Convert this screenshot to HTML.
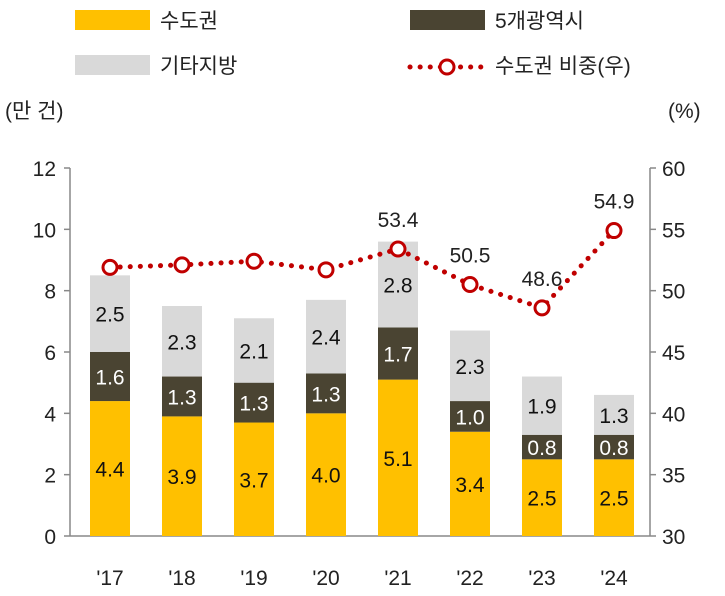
<!DOCTYPE html>
<html><head><meta charset="utf-8">
<style>
body{margin:0;background:#fff;}
svg{display:block;font-family:"Liberation Sans","Noto Sans CJK KR",sans-serif;}
</style></head>
<body>
<svg id="chart" width="725" height="596" viewBox="0 0 725 596">
<g>
  <rect x="75" y="10" width="75" height="20" fill="#FFC000"/>
  <text x="160" y="28" font-size="21" fill="#222">수도권</text>
  <rect x="410" y="10" width="75" height="20" fill="#4A4432"/>
  <text x="495" y="28" font-size="21" fill="#222">5개광역시</text>
  <rect x="75" y="55" width="75" height="20" fill="#D9D9D9"/>
  <text x="160" y="73" font-size="21" fill="#222">기타지방</text>
  <line x1="410" y1="67" x2="485" y2="67" stroke="#C00000" stroke-width="5" stroke-dasharray="0.1 10" stroke-linecap="round"/>
  <circle cx="447" cy="67" r="7" fill="#fff" stroke="#C00000" stroke-width="3"/>
  <text x="495" y="73" font-size="21" fill="#222">수도권 비중(우)</text>
</g>
<text x="5" y="118" font-size="21" fill="#222">(만 건)</text>
<text x="668" y="118" font-size="21" fill="#222">(%)</text>
<g id="axes"></g>
<g id="bars"></g>
<g id="line"></g>
</svg>
<script>
const years=["'17","'18","'19","'20","'21","'22","'23","'24"];
const capital=[4.4,3.9,3.7,4.0,5.1,3.4,2.5,2.5];
const metro=[1.6,1.3,1.3,1.3,1.7,1.0,0.8,0.8];
const other=[2.5,2.3,2.1,2.4,2.8,2.3,1.9,1.3];
const share=[51.9,52.1,52.4,51.7,53.4,50.5,48.6,54.9];
const shareLabels=[null,null,null,null,"53.4","50.5","48.6","54.9"];
const leftTicks=[0,2,4,6,8,10,12];
const rightTicks=[30,35,40,45,50,55,60];
const NS="http://www.w3.org/2000/svg";
const plotTop=168,plotBot=536,x0=70,x1=650;
const yL=v=>plotBot-(v/12)*(plotBot-plotTop);
const yR=v=>plotBot-((v-30)/30)*(plotBot-plotTop);
const xC=i=>110+i*72;
const bw=40;
function mk(tag,attrs,parent,text){const e=document.createElementNS(NS,tag);for(const k in attrs)e.setAttribute(k,attrs[k]);if(text!=null)e.textContent=text;parent.appendChild(e);return e;}
const axes=document.getElementById('axes'),bars=document.getElementById('bars'),line=document.getElementById('line');
let e=mk('line',{x1:x0,y1:plotTop,x2:x0,y2:plotBot,stroke:'#888','stroke-width':1.5},axes);


e=mk('line',{x1:x1,y1:plotTop,x2:x1,y2:plotBot,stroke:'#888','stroke-width':1.5},axes);


e=mk('line',{x1:x0,y1:plotBot,x2:x1,y2:plotBot,stroke:'#888','stroke-width':1.5},axes);


leftTicks.forEach(t=>{
  mk('line',{x1:x0-6,y1:yL(t),x2:x0,y2:yL(t),stroke:'#888','stroke-width':1.5},axes);
  const tx=mk('text',{x:x0-14,y:yL(t)+8,'font-size':21,'text-anchor':'end',fill:'#222'},axes,String(t));
  
  
});
rightTicks.forEach(t=>{
  mk('line',{x1:x1,y1:yR(t),x2:x1+6,y2:yR(t),stroke:'#888','stroke-width':1.5},axes);
  const tx=mk('text',{x:x1+12,y:yR(t)+8,'font-size':21,fill:'#222'},axes,String(t));
  
  
});
years.forEach((y,i)=>{
  const tx=mk('text',{x:xC(i),y:585,'font-size':21,'text-anchor':'middle',fill:'#222'},axes,y);
  
  
  const segs=[[0,capital[i],'#FFC000','#111','capital'],[capital[i],capital[i]+metro[i],'#4A4432','#fff','metro'],[capital[i]+metro[i],capital[i]+metro[i]+other[i],'#D9D9D9','#111','other']];
  const vals=[capital[i],metro[i],other[i]];
  segs.forEach((s,j)=>{
    const r=mk('rect',{x:xC(i)-bw/2,y:yL(s[1]),width:bw,height:yL(s[0])-yL(s[1]),fill:s[2]},bars);
    
    
    const l=mk('text',{x:xC(i),y:(yL(s[0])+yL(s[1]))/2+8,'font-size':21,'text-anchor':'middle',fill:s[3]},bars,vals[j].toFixed(1));
    
    
  });
});
const pts=share.map((v,i)=>xC(i)+','+yR(v)).join(' ');
e=mk('polyline',{points:pts,fill:'none',stroke:'#C00000','stroke-width':5,'stroke-dasharray':'0.1 10','stroke-linecap':'round'},line);


share.forEach((v,i)=>{
  const c=mk('circle',{cx:xC(i),cy:yR(v),r:7,fill:'#fff',stroke:'#C00000','stroke-width':3},line);
  
  
  if(shareLabels[i]){
    const l=mk('text',{x:xC(i),y:yR(v)-22,'font-size':21,'text-anchor':'middle',fill:'#222'},line,shareLabels[i]);
    
    
  }
});
</script>
</body></html>
